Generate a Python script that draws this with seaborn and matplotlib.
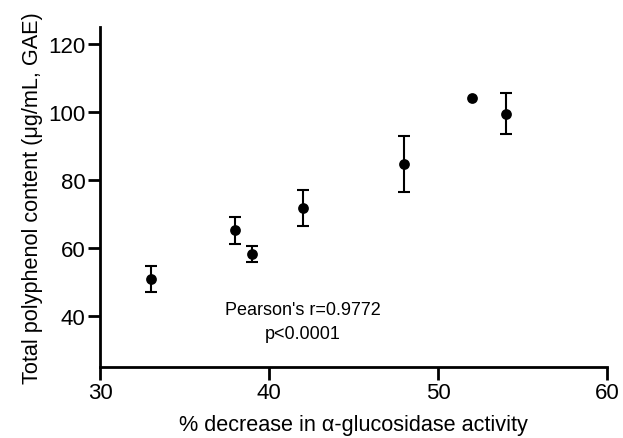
import numpy as np
import pandas as pd
import seaborn as sns
import matplotlib
matplotlib.use('Agg')
import matplotlib.pyplot as plt

# % decrease in alpha-glucosidase activity vs total polyphenol content
decrease = [33, 38, 39, 42, 48, 52, 54]
polyphenol = [50.9, 65.2, 58.3, 71.8, 84.6, 104.2, 99.5]
sd = [3.7, 4.0, 2.4, 5.2, 8.2, np.nan, 6.1]  # no visible bar at 52

xticks = [30, 40, 50, 60]
yticks = [40, 60, 80, 100, 120]

sns.set_style('ticks')
plt.rcParams['font.family'] = ['Liberation Sans', 'DejaVu Sans']
plt.rcParams['text.color'] = 'black'
plt.rcParams['axes.labelcolor'] = 'black'
plt.rcParams['xtick.color'] = 'black'
plt.rcParams['ytick.color'] = 'black'

df = pd.DataFrame(dict(decrease=decrease, polyphenol=polyphenol, sd=sd))

fig = plt.figure(figsize=(6.23, 4.39), dpi=100)
ax = fig.add_axes([0.1605, 0.1617, 0.8138, 0.7745])

ax.errorbar(df['decrease'], df['polyphenol'], yerr=df['sd'], fmt='none',
            ecolor='black', elinewidth=1.5, capsize=4.3, capthick=1.5, zorder=2)
sns.scatterplot(data=df, x='decrease', y='polyphenol', color='black', s=60,
                edgecolor='black', linewidth=0, ax=ax, zorder=3)

ax.text(42, 42.0, "Pearson's r=0.9772", ha='center', va='center', fontsize=13)
ax.text(42, 35.0, 'p<0.0001', ha='center', va='center', fontsize=13)

ax.set_xlim(30, 60)
ax.set_ylim(25, 125)
ax.set_xticks(xticks)
ax.set_yticks(yticks)
ax.set_xlabel('% decrease in α-glucosidase activity', fontsize=15.6, labelpad=8)
ax.set_ylabel('Total polyphenol content (μg/mL, GAE)', fontsize=15.6, labelpad=4)
ax.tick_params(labelsize=16, width=2, length=9, color='black', pad=1.5)

sns.despine(ax=ax)
for side in ['left', 'bottom']:
    ax.spines[side].set_linewidth(2)
    ax.spines[side].set_color('black')

plt.savefig('out.png', dpi=100)
